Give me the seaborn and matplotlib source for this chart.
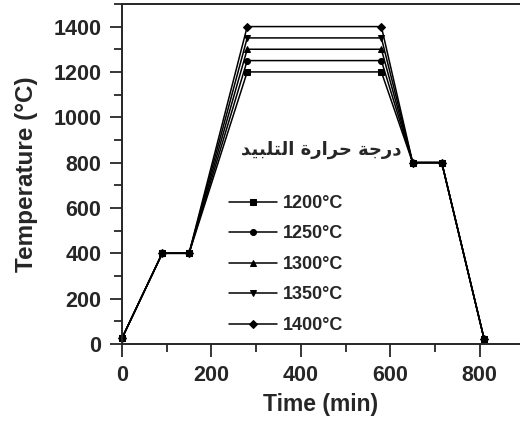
import matplotlib
matplotlib.use("Agg")
import matplotlib.pyplot as plt
from matplotlib.ticker import MultipleLocator
import seaborn as sns
import pandas as pd

# heating schedule, one profile per sintering temperature
time_min = [0, 90, 150, 280, 580, 650, 715, 810]
sinter_temps = [1200, 1250, 1300, 1350, 1400]
start_temp = 25
debind_temp = 400
cool_temp = 800
end_temp = 20
series_labels = ["1200°C", "1250°C", "1300°C", "1350°C", "1400°C"]
series_markers = ["s", "o", "^", "v", "D"]

# "درجة حرارة التلبيد" written in presentation forms, visual order (no shaping in matplotlib)
legend_title = ("\uFEAA\uFEF4\uFE92\uFEE0\uFE98\uFEDF\uFE8D"
                " \uFE93\uFEAD\uFE8D\uFEAE\uFEA3"
                " \uFE94\uFE9F\uFEAD\uFEA9")

rows = []
for T, lab in zip(sinter_temps, series_labels):
    temps = [start_temp, debind_temp, debind_temp, T, T, cool_temp, cool_temp, end_temp]
    for t, v in zip(time_min, temps):
        rows.append({"Time": t, "Temp": v, "Series": lab})
df = pd.DataFrame(rows)

sns.set_style("ticks")
plt.rcParams["font.family"] = ["Liberation Sans", "DejaVu Sans"]
plt.rcParams["font.weight"] = "bold"

fig = plt.figure(figsize=(5.2, 4.21), dpi=100)
ax = fig.add_axes([0.2346, 0.183, 0.7654, 0.8077])

sns.lineplot(data=df, x="Time", y="Temp", hue="Series", style="Series",
             markers=series_markers, dashes=False, palette=["black"] * 5,
             sort=False, linewidth=1.1, markersize=4.3, markeredgecolor="black",
             ax=ax, clip_on=False)

ax.set_xlim(0, 890)
ax.set_ylim(0, 1500)
ax.xaxis.set_major_locator(MultipleLocator(200))
ax.xaxis.set_minor_locator(MultipleLocator(100))
ax.yaxis.set_major_locator(MultipleLocator(200))
ax.yaxis.set_minor_locator(MultipleLocator(100))
ax.set_yticks(range(0, 1401, 200))
ax.tick_params(which="major", direction="out", length=9, width=1.3, labelsize=15.5, pad=6)
ax.tick_params(which="minor", direction="out", length=5.5, width=1.3)
for side in ["left", "bottom", "top"]:
    ax.spines[side].set_linewidth(1.4)
ax.spines["right"].set_visible(False)

ax.set_xlabel("Time (min)", fontsize=16.5, fontweight="bold", labelpad=5)
ax.set_ylabel("Temperature (°C)", fontsize=17.5, fontweight="bold", labelpad=11)

ax.legend(loc="upper left", bbox_to_anchor=(0.245, 0.465), frameon=False,
          fontsize=13, handlelength=2.7, handletextpad=0.3, labelspacing=0.75,
          borderpad=0)
ax.text(0.5, 0.57, legend_title, transform=ax.transAxes, ha="center", va="center",
        fontsize=13, fontweight="bold", family="DejaVu Sans")

fig.savefig("out.png", dpi=100)
